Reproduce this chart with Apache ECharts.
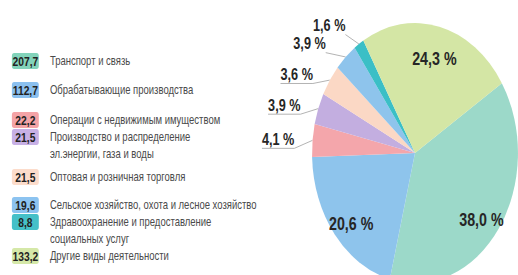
<!DOCTYPE html>
<html>
<head>
<meta charset="utf-8">
<script src="https://cdn.jsdelivr.net/npm/echarts@6/dist/echarts.min.js"></script>
<style>
  html, body { margin: 0; padding: 0; background: #fff; overflow: hidden; }
  /* the original picture is squeezed sideways: draw wider, then condense */
  #main { width: 654px; height: 275px; transform: scaleX(0.792); transform-origin: 0 0; }
</style>
</head>
<body>
<div id="main"></div>
<script>
const names = [
  'Транспорт и связь',
  'Обрабатывающие производства',
  'Операции с недвижимым имуществом',
  'Производство и распределение\nэл.энергии, газа и воды',
  'Оптовая и розничная торговля',
  'Сельское хозяйство, охота и лесное хозяйство',
  'Здравоохранение и предоставление\nсоциальных услуг',
  'Другие виды деятельности'
];
const amounts = [207.7, 112.7, 22.2, 21.5, 21.5, 19.6, 8.8, 133.2];
const shareLabels = ['38,0 %', '20,6 %', '4,1 %', '3,9 %', '3,6 %', '3,9 %', '1,6 %', '24,3 %'];

const sliceColors = ['#9cd9c9', '#8ec4ec', '#f4a6ab', '#c3aee0', '#fbd8c5', '#8ec4ec', '#3bbfc6', '#d4e6a5'];
const boxColors = ['#82d3ba', '#8bc0ef', '#f4a3a6', '#c7b0e5', '#fcdccb', '#8cc3f0', '#45c0c8', '#d5e8a8'];

// layout
const CX = 524, CY = 153, R = 130;
const rowY = [61, 90, 120, 137, 177, 205, 222, 256];
const insideIdx = [0, 1, 7];
const underlineIdx = [2, 3, 4];
const lineLen = [0, 0, 10, 10, 10, 18, 22, 0];
const lineLen2 = [0, 0, 8, 8, 8, 8, 0, 0];

const chart = echarts.init(document.getElementById('main'), null, { renderer: 'svg' });

const legends = [];
names.forEach(function (n, i) {
  // coloured box with the value
  legends.push({
    left: 10, top: rowY[i] - 8, padding: 0,
    icon: 'none', itemWidth: 0, itemHeight: 0,
    selectedMode: false,
    data: [n],
    formatter: function () { return '{v|' + amounts[i].toFixed(1).replace('.', ',') + '}'; },
    textStyle: {
      rich: {
        v: {
          backgroundColor: boxColors[i], borderRadius: 3,
          width: 34, height: 16, lineHeight: 16, align: 'center',
          fontFamily: 'Liberation Sans', fontWeight: 'bold', fontSize: 13, color: '#222'
        }
      }
    }
  });
  // name text
  legends.push({
    left: 58, top: rowY[i] - 8.5, padding: 0,
    icon: 'none', itemWidth: 0, itemHeight: 0,
    selectedMode: false,
    data: [n],
    textStyle: { fontFamily: 'Liberation Sans', fontSize: 12, lineHeight: 17, color: '#4a4a4a' }
  });
});

const pieData = amounts.map(function (v, i) {
  const inside = insideIdx.indexOf(i) >= 0;
  return {
    name: names[i],
    value: v,
    itemStyle: { color: sliceColors[i] },
    label: inside ? { position: 'inside', fontSize: 18 } : { position: 'outside' },
    labelLine: { length: lineLen[i], length2: lineLen2[i] }
  };
});

const option = {
  animation: false,
  legend: legends,
  series: [{
    type: 'pie',
    center: [CX, CY],
    radius: R,
    startAngle: 32.5,
    avoidLabelOverlap: false,
    data: pieData,
    label: {
      formatter: function (p) { return shareLabels[p.dataIndex]; },
      fontFamily: 'Liberation Sans',
      fontWeight: 'bold',
      fontSize: 16,
      color: '#262626'
    },
    labelLine: { show: true, lineStyle: { color: '#aaa', width: 1 } },
    labelLayout: function (p) {
      const i = p.dataIndex;
      const r = p.labelRect;
      if (insideIdx.indexOf(i) >= 0) {
        // push inner labels outward from the centre
        const lx = r.x + r.width / 2, ly = r.y + r.height / 2;
        return { dx: (lx - CX) * 0.52, dy: (ly - CY) * 0.52 + 6 };
      }
      const pts = p.labelLinePoints;
      if (!pts) return {};
      const bottom = r.y + r.height + 1;
      const right = r.x + r.width;
      const left = underlineIdx.indexOf(i) >= 0 ? r.x : right;
      return { labelLinePoints: [pts[0], [right, bottom], [left, bottom]] };
    }
  }]
};
chart.setOption(option);
</script>
</body>
</html>
